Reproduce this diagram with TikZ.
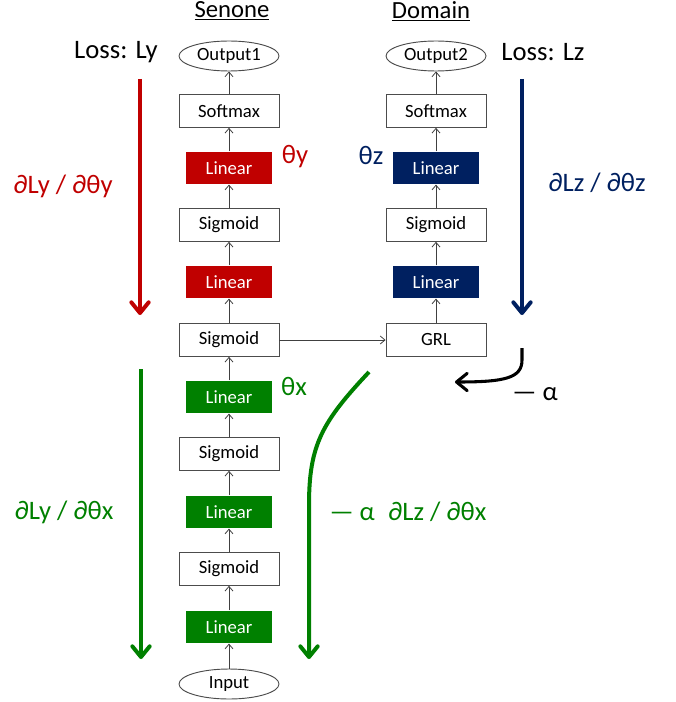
\documentclass[tikz,border=0pt]{standalone}
\usepackage{fontspec}
\setmainfont{Carlito}
\usetikzlibrary{arrows.meta,shapes.geometric}

\definecolor{senred}{RGB}{192,0,0}
\definecolor{domblue}{RGB}{0,32,96}
\definecolor{featgreen}{RGB}{0,128,0}

\tikzset{x=0.75pt, y=-0.75pt} % one unit = one pixel of the sketch
\tikzset{
 plainbox/.style={draw=black!70, fill=white, line width=0.7pt, minimum width=75pt,
   minimum height=24.5pt, inner sep=0pt, font=\fontsize{14}{16}\selectfont},
 colbox/.style={fill=#1, text=white, minimum width=64.5pt, minimum height=24.5pt,
   inner sep=0pt, font=\fontsize{14}{16}\selectfont},
 redbox/.style={colbox=senred},
 bluebox/.style={colbox=domblue},
 greenbox/.style={colbox=featgreen},
 io/.style={plainbox, ellipse, minimum height=22.5pt},
 flow/.style={draw=black!75, line width=0.6pt, -{Straight Barb[length=3.5pt,width=6pt]}},
 grad/.style={line width=3pt, -{Straight Barb[length=8pt,width=13pt,round]}},
 biglbl/.style={font=\fontsize{20}{24}\selectfont},
 title/.style={font=\fontsize{18.5}{22}\selectfont}
}

\begin{document}
\begin{tikzpicture}
\useasboundingbox (0,0) rectangle (675,702);
% titles
\node[title] (senone) at (232,11) {\underline{Senone}};
\node[title] (domain) at (431,11) {\underline{Domain}};
% senone branch, bottom up
\node[io] (input) at (229,684) {Input};
\foreach \n/\y/\s/\t in {s1/627/greenbox/Linear, s2/569/plainbox/Sigmoid,
  s3/512/greenbox/Linear, s4/454/plainbox/Sigmoid, s5/397/greenbox/Linear,
  s6/340/plainbox/Sigmoid, s7/282/redbox/Linear, s8/225/plainbox/Sigmoid,
  s9/168/redbox/Linear, s10/111/plainbox/Softmax, out1/56/io/Output1}
 \node[\s] (\n) at (229,\y) {\t};
% domain branch
\foreach \n/\y/\s/\t in {grl/340/plainbox/GRL, d1/282/bluebox/Linear,
  d2/225/plainbox/Sigmoid, d3/168/bluebox/Linear, d4/111/plainbox/Softmax,
  out2/56/io/Output2}
 \node[\s] (\n) at (436,\y) {\t};
\foreach \a/\b in {input/s1,s1/s2,s2/s3,s3/s4,s4/s5,s5/s6,s6/s7,s7/s8,s8/s9,
  s9/s10,s10/out1,s6/grl,grl/d1,d1/d2,d2/d3,d3/d4,d4/out2}
 \draw[flow] (\a) -- (\b);

% losses and parameters
\node[biglbl] (lossy) at (116,52) {Loss: Ly};
\node[biglbl] (lossz) at (543,52) {Loss: Lz};
\node[biglbl, senred] (thy) at (295,157) {θy};
\node[biglbl, domblue] (thz) at (371,155) {θz};
\node[biglbl, featgreen] (thx) at (294,386) {θx};

% gradients
\coordinate (ya) at (140,79); \coordinate (yb) at (140,315);
\coordinate (za) at (522,79); \coordinate (zb) at (522,315);
\coordinate (xa) at (141,369); \coordinate (xb) at (141,659);
\coordinate (ca) at (369,372); \coordinate (cb) at (309,659);
\coordinate (ra) at (522,348); \coordinate (rb) at (455,382);
\draw[grad, senred] (ya) -- (yb);
\draw[grad, domblue] (za) -- (zb);
\draw[grad, featgreen] (xa) -- (xb);
\draw[grad, featgreen] (ca) .. controls (322,422) and (309,445) .. (309,505) -- (cb);
\draw[grad, line width=2.3pt] (ra) -- (522,360) .. controls (522,378) and (505,382) .. (rb);
\node[biglbl, senred] (gyy) at (63,186) {∂Ly / ∂θy};
\node[biglbl, domblue] (gzz) at (597,183) {∂Lz / ∂θz};
\node[biglbl, featgreen] (gyx) at (64,512) {∂Ly / ∂θx};
\node[biglbl, featgreen] (gzx) at (408,512) {— α\enspace∂Lz / ∂θx};
\node[biglbl] (alpha) at (535,394) {— α};
\end{tikzpicture}
\end{document}
